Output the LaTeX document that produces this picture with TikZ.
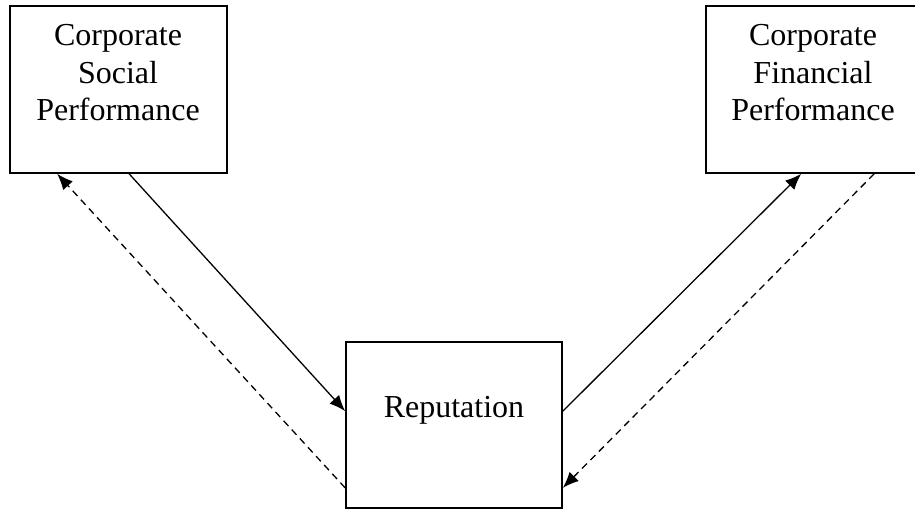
\documentclass[tikz,border=0pt]{standalone}
\usepackage{fontspec}
\setmainfont{Liberation Serif}
\usetikzlibrary{arrows.meta,calc}
\begin{document}
\begin{tikzpicture}[x=1pt,y=1pt,
  box/.style={draw,line width=1.7pt,minimum width=#1,minimum height=167pt,inner sep=0pt},
  lbl/.style={font=\fontsize{32}{37.5}\selectfont,align=center,anchor=base,inner sep=0pt},
  conn/.style={line width=1.3pt,-{Latex[length=16pt,width=13pt]}},
  dconn/.style={conn,dash pattern=on 7pt off 5pt}]
\useasboundingbox (0,0) rectangle (915,510);
\begin{scope}
\clip (0,0) rectangle (915,510);
\node[box=217pt] (csp) at (118.5,420.5) {};
\node[box=214pt] (cfp) at (813,420.5) {};
\node[box=216pt,minimum height=166pt] (rep) at (454,85) {};
\end{scope}
\node[lbl] (csptext) at (118,389.3) {Corporate\\Social\\Performance};
\node[lbl] (cfptext) at (813,389.3) {Corporate\\Financial\\Performance};
\node[lbl] (reptext) at (454,92) {Reputation};
\coordinate (a1) at ($(csp.south west)+(120,0)$);
\coordinate (a2) at ($(rep.north west)+(0,-70)$);
\coordinate (b1) at ($(rep.south west)+(0,21)$);
\coordinate (b2) at ($(csp.south west)+(48,0)$);
\coordinate (c1) at ($(rep.north east)+(0,-70)$);
\coordinate (c2) at ($(cfp.south west)+(96,0)$);
\coordinate (d1) at ($(cfp.south west)+(169,0)$);
\coordinate (d2) at ($(rep.south east)+(0,21)$);
\draw[conn] (a1) -- (a2);
\draw[dconn] (b1) -- (b2);
\draw[conn] (c1) -- (c2);
\draw[dconn] (d1) -- (d2);
\end{tikzpicture}
\end{document}
